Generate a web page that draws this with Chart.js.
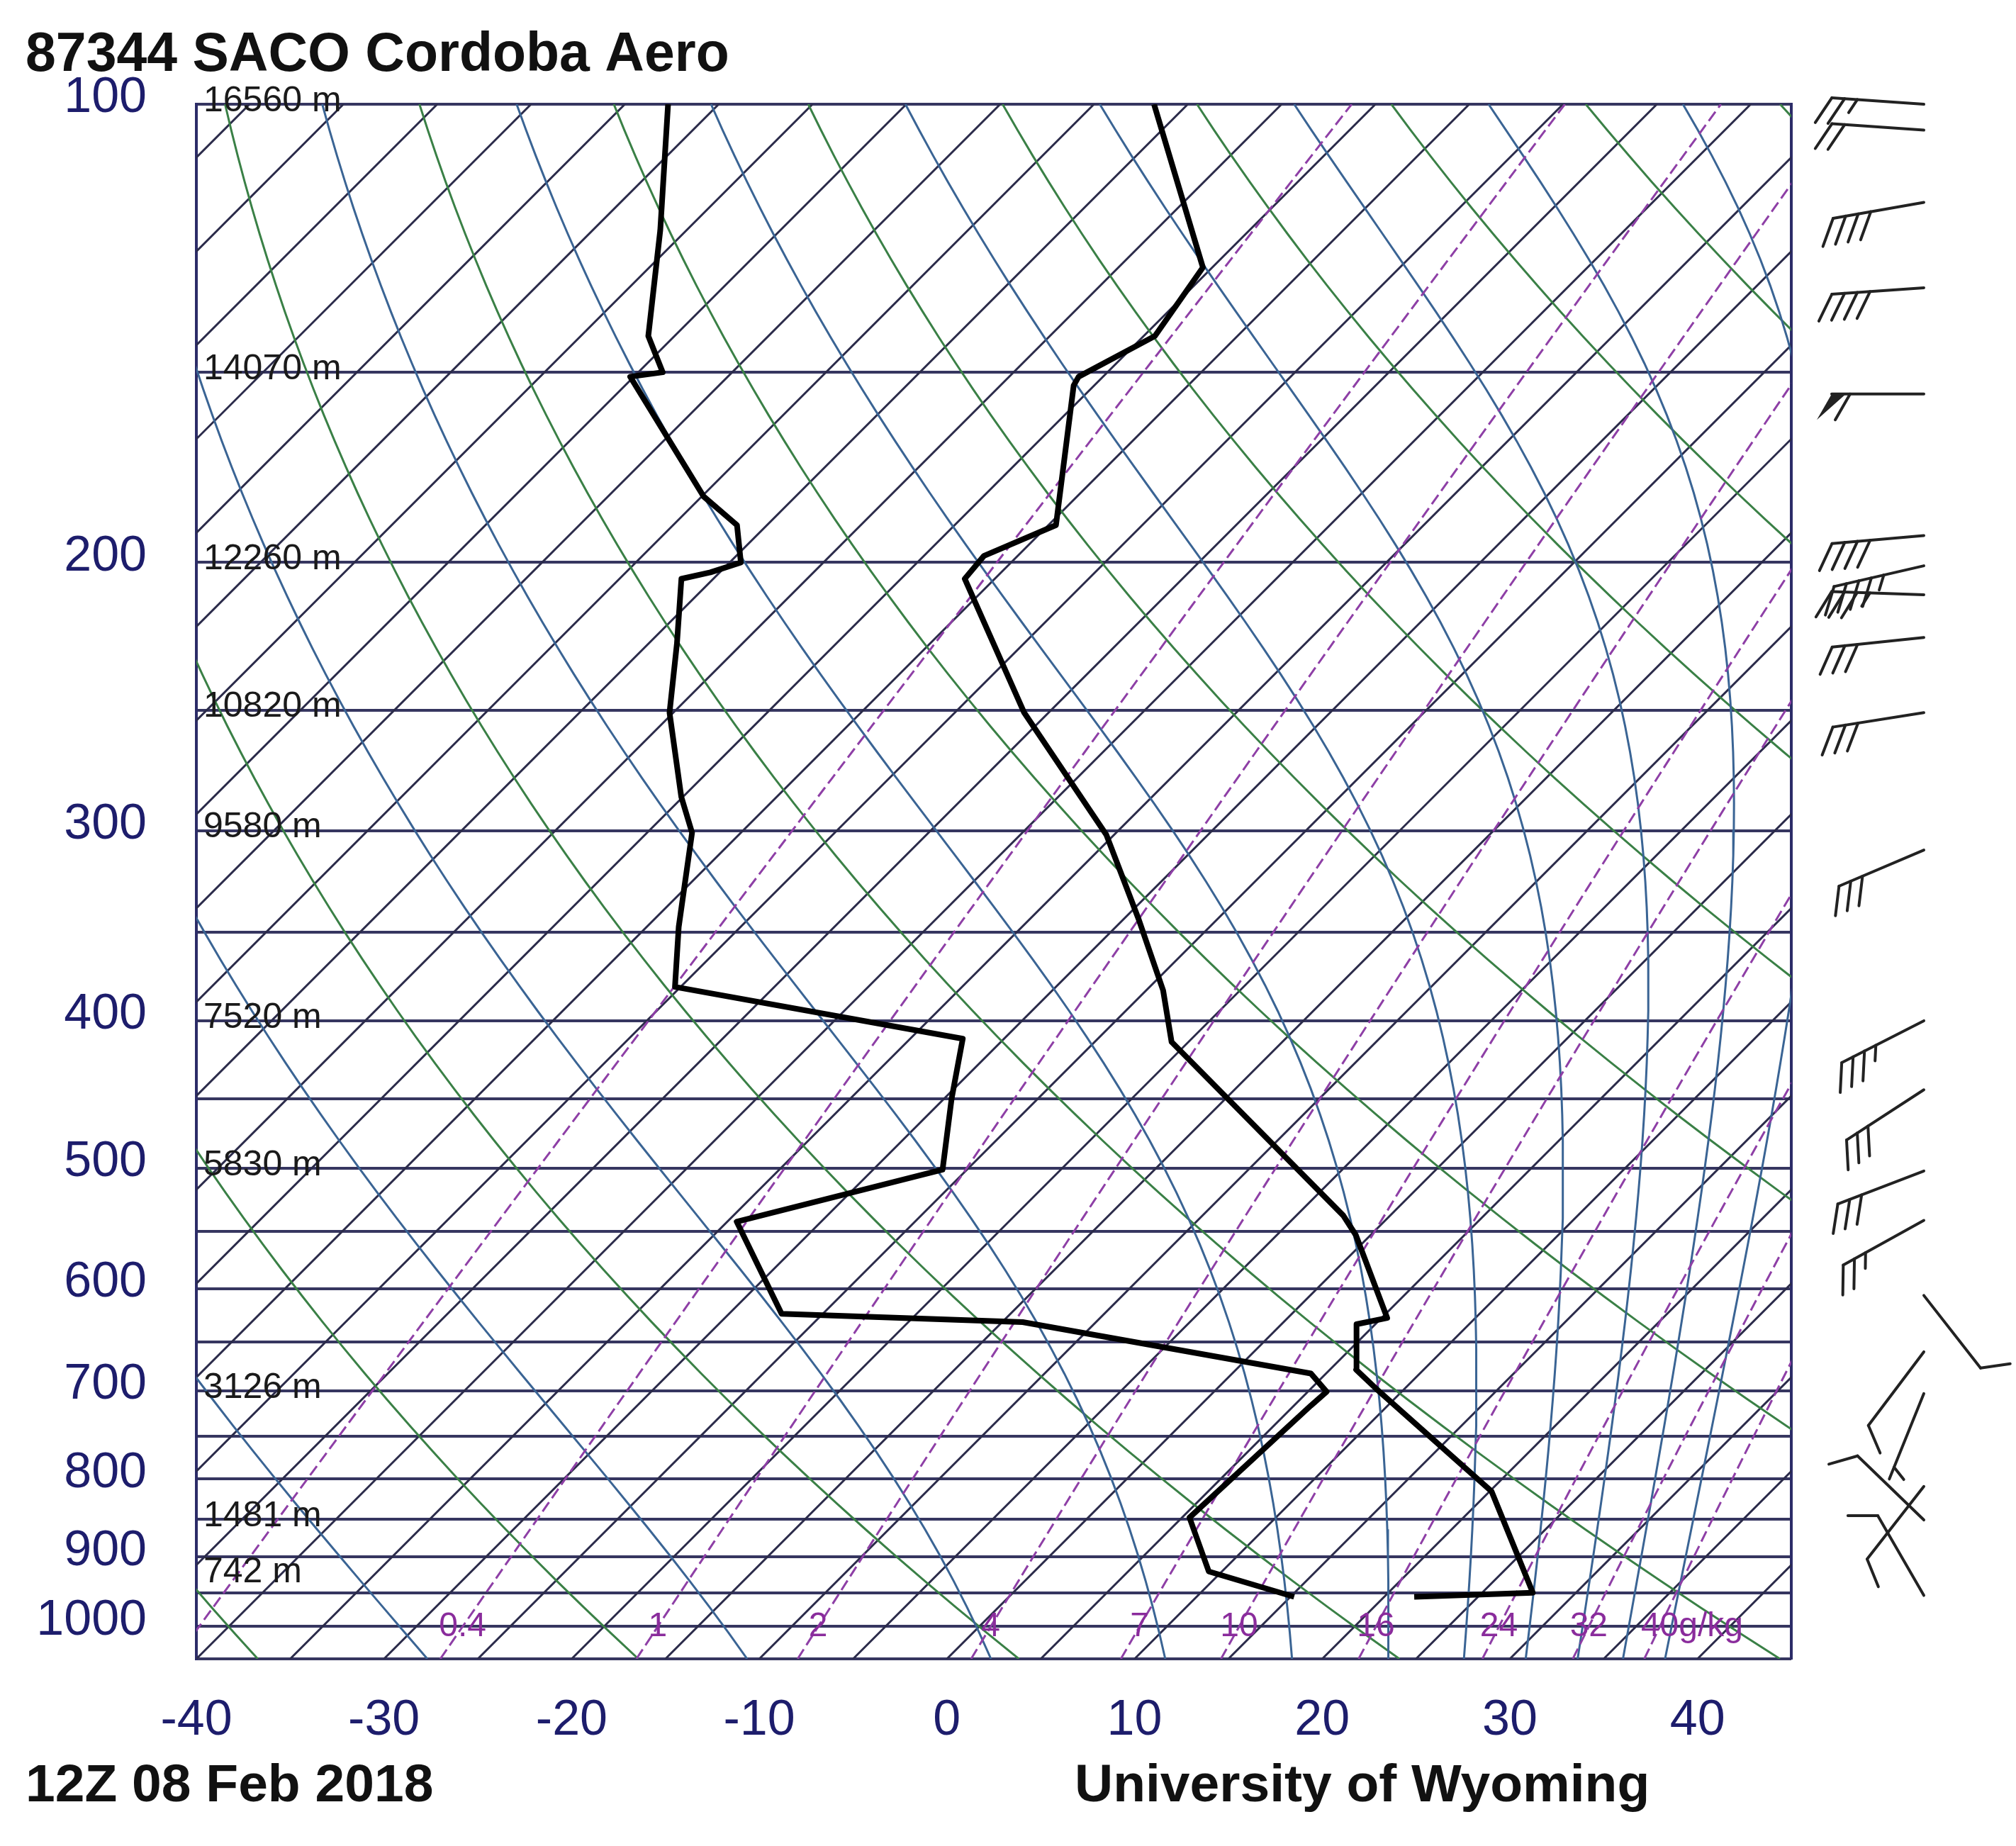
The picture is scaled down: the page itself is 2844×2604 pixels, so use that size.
<!DOCTYPE html>
<html>
<head>
<meta charset="utf-8">
<script src="https://cdn.jsdelivr.net/npm/chart.js@4.4.1/dist/chart.umd.min.js"></script>
<style>
  html, body { margin: 0; padding: 0; background: #fff; }
  #contenedor { width: 2844px; height: 2604px; }
</style>
</head>
<body>
<div id="contenedor"><canvas id="skewt"></canvas></div>
<script>
// Diagrama Skew-T del sondeo 87344 SACO Cordoba Aero (12Z 08 Feb 2018)

// Sondeo: temperatura (hPa / °C)
const presTemp = [956, 950, 815, 698, 678, 633, 627, 553, 537, 413, 382, 343, 302, 251, 205, 198, 189, 153, 151, 142, 128, 100];
const tempC = [21.6, 27.7, 20.1, 8.5, 6.4, 4.0, 5.3, -0.8, -2.5, -20.9, -24.1, -29.2, -35.4, -46.3, -56.6, -56.8, -54.6, -61.1, -61.3, -59.4, -60.5, -71.8];
// Sondeo: punto de rocío (hPa / °C)
const presRocio = [956, 920, 848, 716, 701, 682, 631, 623, 542, 501, 450, 411, 380, 347, 301, 285, 251, 226, 205, 203, 200, 189, 181, 151, 150, 142, 121, 100];
const rocioC = [15.2, 9.3, 5.4, 5.9, 6.0, 4.2, -13.9, -27.2, -34.5, -26.3, -29.6, -32.2, -50.3, -53.3, -57.6, -60.1, -65.2, -68.5, -71.7, -70.5, -69.4, -71.6, -74.9, -85.2, -83.7, -86.4, -91.4, -97.7];

// Viento (hPa, dirección en grados, velocidad en nudos)
const vientoP = [100, 104, 116, 132, 155, 192, 201, 210, 224, 251, 309, 400, 444, 502, 541, 606, 660, 703, 809, 851, 954];
const vientoDir = [274, 274, 260, 266, 270, 265, 257, 272, 264, 261, 247, 243, 237, 249, 241, 142, 217, 202, 218, 314, 330];
const vientoVel = [25, 20, 40, 40, 60, 40, 45, 35, 30, 30, 30, 35, 30, 30, 25, 10, 10, 5, 10, 10, 10];

// Alturas geopotenciales de los niveles
const nivelesAltura = [100, 150, 200, 250, 300, 400, 500, 700, 850, 925];
const alturas = ['16560 m', '14070 m', '12260 m', '10820 m', '9580 m', '7520 m', '5830 m', '3126 m', '1481 m', '742 m'];

// Ejes
const isobaras = [100, 150, 200, 250, 300, 350, 400, 450, 500, 550, 600, 650, 700, 750, 800, 850, 900, 950, 1000, 1050];
const etiquetasP = [100, 200, 300, 400, 500, 600, 700, 800, 900, 1000];
const ticksT = [-40, -30, -20, -10, 0, 10, 20, 30, 40];

// Líneas de fondo
const isotermas = [];
for (let t = -120; t <= 45; t += 5) isotermas.push(t);
const adiabatasSecas = [-40, -20, 0, 20, 40, 60, 80, 100, 120, 140, 160, 180];
const adiabatasHumedas = [-30, -10, 10, 30, 50, 70, 90, 110, 130, 150, 170];
const razonesMezcla = [0.1, 0.4, 1, 2, 4, 7, 10, 16, 24, 32, 40];
const etiquetasMezcla = ['', '0.4', '1', '2', '4', '7', '10', '16', '24', '32', '40'];

const P_BASE = 1050;
const SKEW = 35.23;
const FUENTE = "'Liberation Sans', Arial, sans-serif";
const AZUL = '#1d1d6c';

// Temperatura -> coordenada x sesgada
function sesgo(t, p) {
    return t + SKEW * Math.log(P_BASE / p);
}

// Niveles de presión para las curvas de fondo
const niveles = [];
for (let i = 0; i <= 60; i++) niveles.push(P_BASE * Math.pow(100 / P_BASE, i / 60));

function presionVapor(tc) {
    return 6.112 * Math.exp(17.67 * tc / (tc + 243.5));
}

// Gradiente pseudoadiabático dT/dp (K/hPa)
function gradHumedo(tk, p) {
    const e = presionVapor(tk - 273.15);
    const rs = 0.622 * e / (p - e);
    const num = (287.04 * tk + 2.501e6 * rs) / p;
    const den = 1005.7 + (2.501e6 * 2.501e6 * rs * 0.622) / (287.04 * tk * tk);
    return num / den;
}

function curvaHumeda(thetaC) {
    let tk = (thetaC + 273.15) * Math.pow(0.1, 0.2857);
    const puntos = [];
    for (let i = niveles.length - 1; i >= 0; i--) {
        const p = niveles[i];
        puntos.push({ x: sesgo(tk - 273.15, p), y: p });
        if (i === 0) break;
        const pasos = 8;
        const dp = (niveles[i - 1] - p) / pasos;
        let pp = p;
        for (let k = 0; k < pasos; k++) {
            const k1 = gradHumedo(tk, pp);
            const k2 = gradHumedo(tk + dp * k1 / 2, pp + dp / 2);
            const k3 = gradHumedo(tk + dp * k2 / 2, pp + dp / 2);
            const k4 = gradHumedo(tk + dp * k3, pp + dp);
            tk += dp * (k1 + 2 * k2 + 2 * k3 + k4) / 6;
            pp += dp;
        }
    }
    return puntos;
}

function rocioMezcla(w, p) {
    const e = (w / 1000) * p / (0.622 + w / 1000);
    const l = Math.log(e / 6.112);
    return 243.5 * l / (17.67 - l);
}

function linea(datos, color, ancho, orden, extra) {
    return Object.assign({
        data: datos,
        showLine: true,
        borderColor: color,
        borderWidth: ancho,
        pointRadius: 0,
        pointHitRadius: 0,
        fill: false,
        tension: 0,
        order: orden
    }, extra || {});
}

const datasets = [];
// Sondeo (encima de todo)
datasets.push(linea(presTemp.map((p, i) => ({ x: sesgo(tempC[i], p), y: p })), '#000', 8, 0, { borderJoinStyle: 'round' }));
datasets.push(linea(presRocio.map((p, i) => ({ x: sesgo(rocioC[i], p), y: p })), '#000', 8, 0, { borderJoinStyle: 'round' }));
// Isotermas
isotermas.forEach(t => datasets.push(linea([{ x: sesgo(t, P_BASE), y: P_BASE }, { x: sesgo(t, 100), y: 100 }], '#2b2b4a', 3, 4)));
// Adiabáticas secas
adiabatasSecas.forEach(th => datasets.push(linea(niveles.map(p => ({ x: sesgo((th + 273.15) * Math.pow(p / 1000, 0.2857) - 273.15, p), y: p })), '#3a8046', 3, 3)));
// Adiabáticas húmedas
adiabatasHumedas.forEach(th => datasets.push(linea(curvaHumeda(th), '#3a6494', 3, 2)));
// Razón de mezcla
razonesMezcla.forEach(w => datasets.push(linea(niveles.map(p => ({ x: sesgo(rocioMezcla(w, p), p), y: p })), '#8e3fa6', 3, 1, { borderDash: [16, 7] })));

// Barba de viento (hemisferio sur: barbas a la izquierda del flujo)
function dibujarBarba(ctx, x0, y0, dir, vel) {
    const rad = dir * Math.PI / 180;
    const sx = Math.sin(rad), sy = -Math.cos(rad);
    const nx = sy, ny = -sx;
    const L = 130;
    const bx = 0.87 * nx + 0.5 * sx, by = 0.87 * ny + 0.5 * sy;
    ctx.beginPath();
    ctx.moveTo(x0, y0);
    ctx.lineTo(x0 + L * sx, y0 + L * sy);
    ctx.stroke();
    let v = Math.round(vel / 5) * 5;
    let pos = L;
    while (v >= 50) {
        ctx.beginPath();
        ctx.moveTo(x0 + pos * sx, y0 + pos * sy);
        ctx.lineTo(x0 + pos * sx + 42 * bx, y0 + pos * sy + 42 * by);
        ctx.lineTo(x0 + (pos - 20) * sx, y0 + (pos - 20) * sy);
        ctx.closePath();
        ctx.fill();
        pos -= 26;
        v -= 50;
    }
    while (v >= 10) {
        ctx.beginPath();
        ctx.moveTo(x0 + pos * sx, y0 + pos * sy);
        ctx.lineTo(x0 + pos * sx + 42 * bx, y0 + pos * sy + 42 * by);
        ctx.stroke();
        pos -= 18;
        v -= 10;
    }
    if (v >= 5) {
        if (pos === L) pos -= 18;
        ctx.beginPath();
        ctx.moveTo(x0 + pos * sx, y0 + pos * sy);
        ctx.lineTo(x0 + pos * sx + 22 * bx, y0 + pos * sy + 22 * by);
        ctx.stroke();
    }
}

// Textos y barbas que Chart.js no dibuja por sí mismo
const textos = {
    id: 'textos',
    afterDatasetsDraw(chart) {
        const { ctx, chartArea, scales: { x, y } } = chart;
        ctx.save();
        // Alturas de los niveles
        ctx.font = '50px ' + FUENTE;
        ctx.fillStyle = '#1a1a1a';
        ctx.textAlign = 'left';
        ctx.textBaseline = 'middle';
        nivelesAltura.forEach((p, i) => ctx.fillText(alturas[i], chartArea.left + 10, y.getPixelForValue(p) - 4));
        // Etiquetas de razón de mezcla sobre 1000 hPa
        ctx.font = '48px ' + FUENTE;
        ctx.fillStyle = '#8a2c9c';
        ctx.textAlign = 'center';
        const y1000 = y.getPixelForValue(1000);
        razonesMezcla.forEach((w, i) => {
            const texto = etiquetasMezcla[i];
            if (!texto) return;
            const xp = x.getPixelForValue(sesgo(rocioMezcla(w, 1000), 1000));
            if (i === razonesMezcla.length - 1) {
                ctx.textAlign = 'left';
                ctx.fillText(texto + 'g/kg', xp - ctx.measureText(texto).width / 2, y1000);
                ctx.textAlign = 'center';
            } else {
                ctx.fillText(texto, xp, y1000);
            }
        });
        ctx.restore();
    },
    afterDraw(chart) {
        const { ctx, scales: { y } } = chart;
        ctx.save();
        ctx.fillStyle = '#111';
        ctx.textAlign = 'left';
        ctx.textBaseline = 'alphabetic';
        ctx.font = 'bold 77px ' + FUENTE;
        ctx.fillText('87344 SACO Cordoba Aero', 36, 100);
        ctx.font = 'bold 75px ' + FUENTE;
        ctx.fillText('12Z 08 Feb 2018', 36, 2541);
        ctx.fillText('University of Wyoming', 1516, 2541);
        // Barbas de viento
        ctx.strokeStyle = '#222';
        ctx.fillStyle = '#222';
        ctx.lineWidth = 4;
        ctx.lineCap = 'round';
        vientoP.forEach((p, i) => dibujarBarba(ctx, 2714, y.getPixelForValue(p), vientoDir[i], vientoVel[i]));
        ctx.restore();
    }
};

Chart.defaults.font.family = FUENTE;

const grafico = new Chart(document.getElementById('skewt'), {
    type: 'scatter',
    data: { datasets: datasets },
    options: {
        responsive: true,
        maintainAspectRatio: false,
        devicePixelRatio: 1,
        animation: false,
        events: [],
        layout: { padding: { top: 147, right: 317, bottom: 0, left: 0 } },
        plugins: {
            legend: { display: false },
            tooltip: { enabled: false }
        },
        scales: {
            x: {
                type: 'linear',
                position: 'bottom',
                min: -40,
                max: 45,
                afterBuildTicks: scale => { scale.ticks = ticksT.map(v => ({ value: v })); },
                afterFit: scale => { scale.height = 264; },
                grid: { display: false, drawTicks: false },
                border: { display: false },
                ticks: {
                    autoSkip: false,
                    maxRotation: 0,
                    padding: 46,
                    color: AZUL,
                    font: { size: 70 },
                    callback: v => String(v)
                }
            },
            y: {
                type: 'logarithmic',
                position: 'left',
                reverse: true,
                min: 100,
                max: 1050,
                afterBuildTicks: scale => { scale.ticks = isobaras.map(v => ({ value: v })); },
                afterFit: scale => { scale.width = 277; },
                grid: { color: '#363660', lineWidth: 4, drawTicks: false },
                border: { display: true, color: '#2c2c68', width: 4 },
                ticks: {
                    autoSkip: false,
                    padding: 70,
                    labelOffset: -8,
                    color: AZUL,
                    font: { size: 70 },
                    callback: v => etiquetasP.includes(v) ? String(v) : ''
                }
            },
            marcoDerecho: {
                type: 'logarithmic',
                position: 'right',
                reverse: true,
                min: 100,
                max: 1050,
                afterFit: scale => { scale.width = 0; },
                grid: { display: false, drawTicks: false },
                border: { display: true, color: '#2c2c68', width: 4 },
                ticks: { display: false }
            }
        }
    },
    plugins: [textos]
});
</script>
</body>
</html>
